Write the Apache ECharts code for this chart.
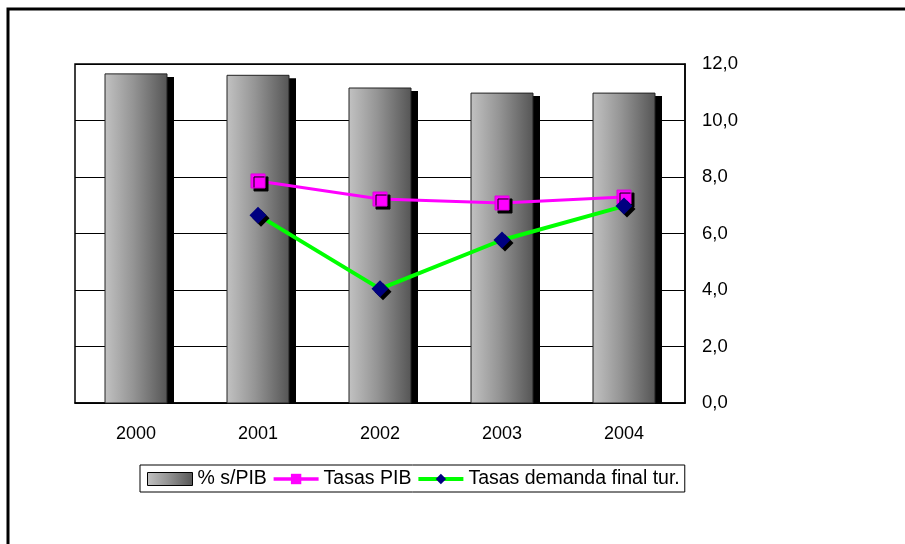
<!DOCTYPE html>
<html>
<head>
<meta charset="utf-8">
<script src="https://cdn.jsdelivr.net/npm/echarts@6/dist/echarts.min.js"></script>
<style>
  html, body { margin: 0; padding: 0; background: #fff; }
  #chart { width: 905px; height: 544px; }
</style>
</head>
<body>
<div id="chart"></div>
<script>
// años
var years = ['2000', '2001', '2002', '2003', '2004'];
// % s/PIB (barras)
var pctPIB = [11.65, 11.6, 11.15, 10.97, 10.97];
// Tasas PIB
var tasasPIB = [null, 7.86, 7.22, 7.08, 7.29];
// Tasas demanda final tur.
var tasasDemanda = [null, 6.65, 4.04, 5.77, 6.97];

var FONT = 'Liberation Sans, Arial, sans-serif';

var chart = echarts.init(document.getElementById('chart'));

function barGradient() {
  return new echarts.graphic.LinearGradient(0, 0, 1, 0, [
    { offset: 0, color: '#c2c2c2' },
    { offset: 0.45, color: '#959595' },
    { offset: 1, color: '#555555' }
  ]);
}

// barras con sombra negra desplazada
function renderBar(params, api) {
  var top = api.coord([api.value(0), api.value(1)]);
  var base = api.coord([api.value(0), 0]);
  var w = 62;
  var x = top[0] - w / 2;
  var h = base[1] - top[1];
  return {
    type: 'group',
    children: [
      {
        type: 'rect',
        shape: { x: x + 7, y: top[1] + 3, width: w, height: h - 3 },
        style: { fill: '#000' }
      },
      {
        type: 'rect',
        shape: { x: x, y: top[1], width: w, height: h },
        style: { fill: barGradient(), stroke: '#222', lineWidth: 1 }
      }
    ]
  };
}

chart.setOption({
  animation: false,
  textStyle: { fontFamily: FONT },
  graphic: [
    {
      // marco exterior
      type: 'rect',
      shape: { x: 8, y: 9, width: 1000, height: 700 },
      style: { fill: 'none', stroke: '#000', lineWidth: 3 },
      silent: true
    }
  ],
  grid: {
    left: 75,
    right: 220,
    top: 64,
    bottom: 141,
    show: true,
    borderColor: '#000',
    borderWidth: 1.5,
    backgroundColor: '#fff'
  },
  legend: {
    left: 140,
    top: 465,
    itemGap: 5,
    itemWidth: 45,
    itemHeight: 13,
    padding: [4, 5, 3, 7],
    borderColor: '#000',
    borderWidth: 1,
    textStyle: { fontSize: 19.5, color: '#000', fontFamily: FONT },
    data: [
      {
        name: '% s/PIB',
        icon: 'rect',
        itemStyle: { color: barGradient(), borderColor: '#000', borderWidth: 1 }
      },
      { name: 'Tasas PIB', lineStyle: { width: 3.5 } },
      { name: 'Tasas demanda final tur.', lineStyle: { width: 4 } }
    ]
  },
  xAxis: {
    type: 'category',
    data: years,
    axisLine: { lineStyle: { color: '#000', width: 1.5 } },
    axisTick: { show: false },
    axisLabel: { color: '#000', fontSize: 18, margin: 22 }
  },
  yAxis: {
    type: 'value',
    position: 'right',
    min: 0,
    max: 12,
    interval: 2,
    axisLine: { show: true, lineStyle: { color: '#000', width: 1.5 } },
    axisTick: { show: false },
    splitLine: { lineStyle: { color: '#000', width: 1 } },
    axisLabel: {
      color: '#000',
      fontSize: 18.5,
      margin: 17,
      formatter: function (v) { return v.toFixed(1).replace('.', ','); }
    }
  },
  series: [
    {
      name: '% s/PIB',
      type: 'custom',
      renderItem: renderBar,
      data: pctPIB.map(function (v, i) { return [i, v]; }),
      encode: { x: 0, y: 1 },
      itemStyle: { color: '#8e8e8e' },
      z: 2
    },
    {
      name: 'Tasas PIB',
      type: 'line',
      data: tasasPIB,
      symbol: 'rect',
      symbolSize: 14,
      z: 5,
      lineStyle: { color: '#ff00ff', width: 3 },
      itemStyle: {
        color: '#ff00ff',
        borderColor: '#e000e0',
        shadowColor: '#000',
        shadowOffsetX: 3,
        shadowOffsetY: 3,
        shadowBlur: 0
      }
    },
    {
      name: 'Tasas demanda final tur.',
      type: 'line',
      data: tasasDemanda,
      symbol: 'diamond',
      symbolSize: 17,
      z: 6,
      lineStyle: { color: '#00ff00', width: 4 },
      itemStyle: {
        color: '#000080',
        shadowColor: '#000',
        shadowOffsetX: 3,
        shadowOffsetY: 3,
        shadowBlur: 0
      }
    }
  ]
});
</script>
</body>
</html>
